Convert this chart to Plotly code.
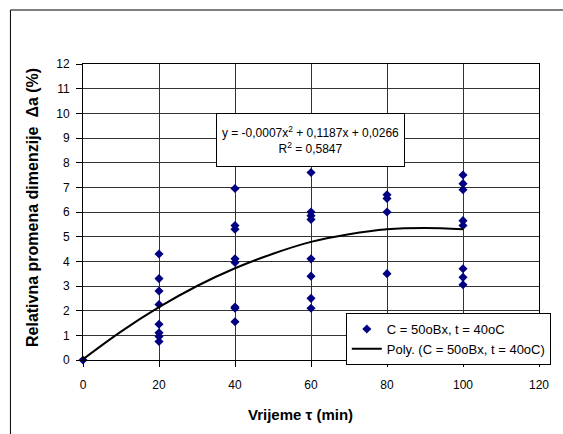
import plotly.graph_objects as go

# Measured points (time in min, relative dimension change in %)
times = [0, 20, 40, 60, 80, 100]
values_by_time = [
    [0.0],
    [4.3, 3.3, 2.8, 2.25, 1.45, 1.1, 0.95, 0.75],
    [6.95, 5.45, 5.3, 4.1, 3.95, 2.15, 2.1, 1.55],
    [7.6, 6.0, 5.85, 5.7, 4.1, 3.4, 2.5, 2.1],
    [6.7, 6.55, 6.0, 3.5],
    [7.5, 7.15, 6.9, 5.65, 5.45, 3.7, 3.35, 3.05],
]

# Polynomial trendline
trend_x = [0, 10, 20, 30, 40, 50, 60, 70, 80, 90, 100]
trend_y = [0.03, 1.15, 2.14, 3.0, 3.72, 4.31, 4.79, 5.1, 5.3, 5.35, 5.3]

x_ticks = [0, 20, 40, 60, 80, 100, 120]
y_ticks = list(range(0, 13))

series_name = "C = 50oBx, t = 40oC"
trend_name = "Poly. (C = 50oBx, t = 40oC)"
equation = "y = -0,0007x<sup>2</sup> + 0,1187x + 0,0266<br>R<sup>2</sup> = 0,5847"
x_title = "<b>Vrijeme τ (min)</b>"
y_title = "<b>Relativna promena dimenzije  Δa (%)</b>"

xs, ys = [], []
for t, vals in zip(times, values_by_time):
    for v in vals:
        xs.append(t)
        ys.append(v)

FONT = "Liberation Sans, Arial, sans-serif"
L, R, T, B = 83, 15, 64, 74
W, H = 563, 434
PW, PH = W - L - R, H - T - B


def px_x(p):
    return (p - L) / PW


def px_y(p):
    return (H - B - p) / PH


fig = go.Figure()
fig.add_trace(go.Scatter(
    x=xs, y=ys, mode="markers", name=series_name,
    marker=dict(symbol="diamond", size=7, color="#000080"),
    cliponaxis=False,
))
fig.add_trace(go.Scatter(
    x=trend_x, y=trend_y, mode="lines", name=trend_name,
    line=dict(color="black", width=2, shape="spline"),
))

axis_common = dict(
    ticks="outside", ticklen=6, tickcolor="black",
    showline=True, linecolor="black", linewidth=1, mirror=True,
    showgrid=True, gridcolor="#333", gridwidth=1,
    zeroline=False, tickfont=dict(size=12), automargin=False,
)

fig.update_layout(
    width=W, height=H,
    margin=dict(l=L, r=R, t=T, b=B),
    paper_bgcolor="white", plot_bgcolor="white",
    font=dict(family=FONT, size=12, color="black"),
    showlegend=True,
    legend=dict(
        x=px_x(351), y=px_y(313), xanchor="left", yanchor="top",
        bordercolor="black", borderwidth=1, bgcolor="white",
        font=dict(size=13), tracegroupgap=0, itemwidth=30,
    ),
    xaxis=dict(range=[0, 120], tickvals=x_ticks, ticklabelstandoff=8, **axis_common),
    yaxis=dict(range=[0, 12], tickvals=y_ticks, ticklabelstandoff=4, **axis_common),
    shapes=[
        dict(type="line", xref="paper", yref="paper",
             x0=px_x(9), x1=px_x(9), y0=px_y(10), y1=px_y(445),
             line=dict(color="black", width=1)),
        dict(type="line", xref="paper", yref="paper",
             x0=px_x(9), x1=px_x(575), y0=px_y(10), y1=px_y(10),
             line=dict(color="black", width=1)),
    ],
    annotations=[
        dict(x=px_x(314.5), y=px_y(139.5), xref="paper", yref="paper", text=equation,
             showarrow=False, xanchor="center", yanchor="middle",
             bordercolor="black", borderwidth=1, bgcolor="white", borderpad=1,
             width=185, height=50, font=dict(size=12), align="center"),
        dict(x=px_x(305), y=px_y(414), xref="paper", yref="paper", text=x_title,
             showarrow=False, xanchor="center", yanchor="middle", font=dict(size=15)),
        dict(x=px_x(31), y=px_y(208), xref="paper", yref="paper", text=y_title,
             showarrow=False, xanchor="center", yanchor="middle", textangle=-90,
             font=dict(size=16)),
    ],
)

fig.write_html(
    "out.html",
    config={"displayModeBar": False},
    post_script="document.body.style.margin='0';document.body.style.overflow='hidden';",
)
